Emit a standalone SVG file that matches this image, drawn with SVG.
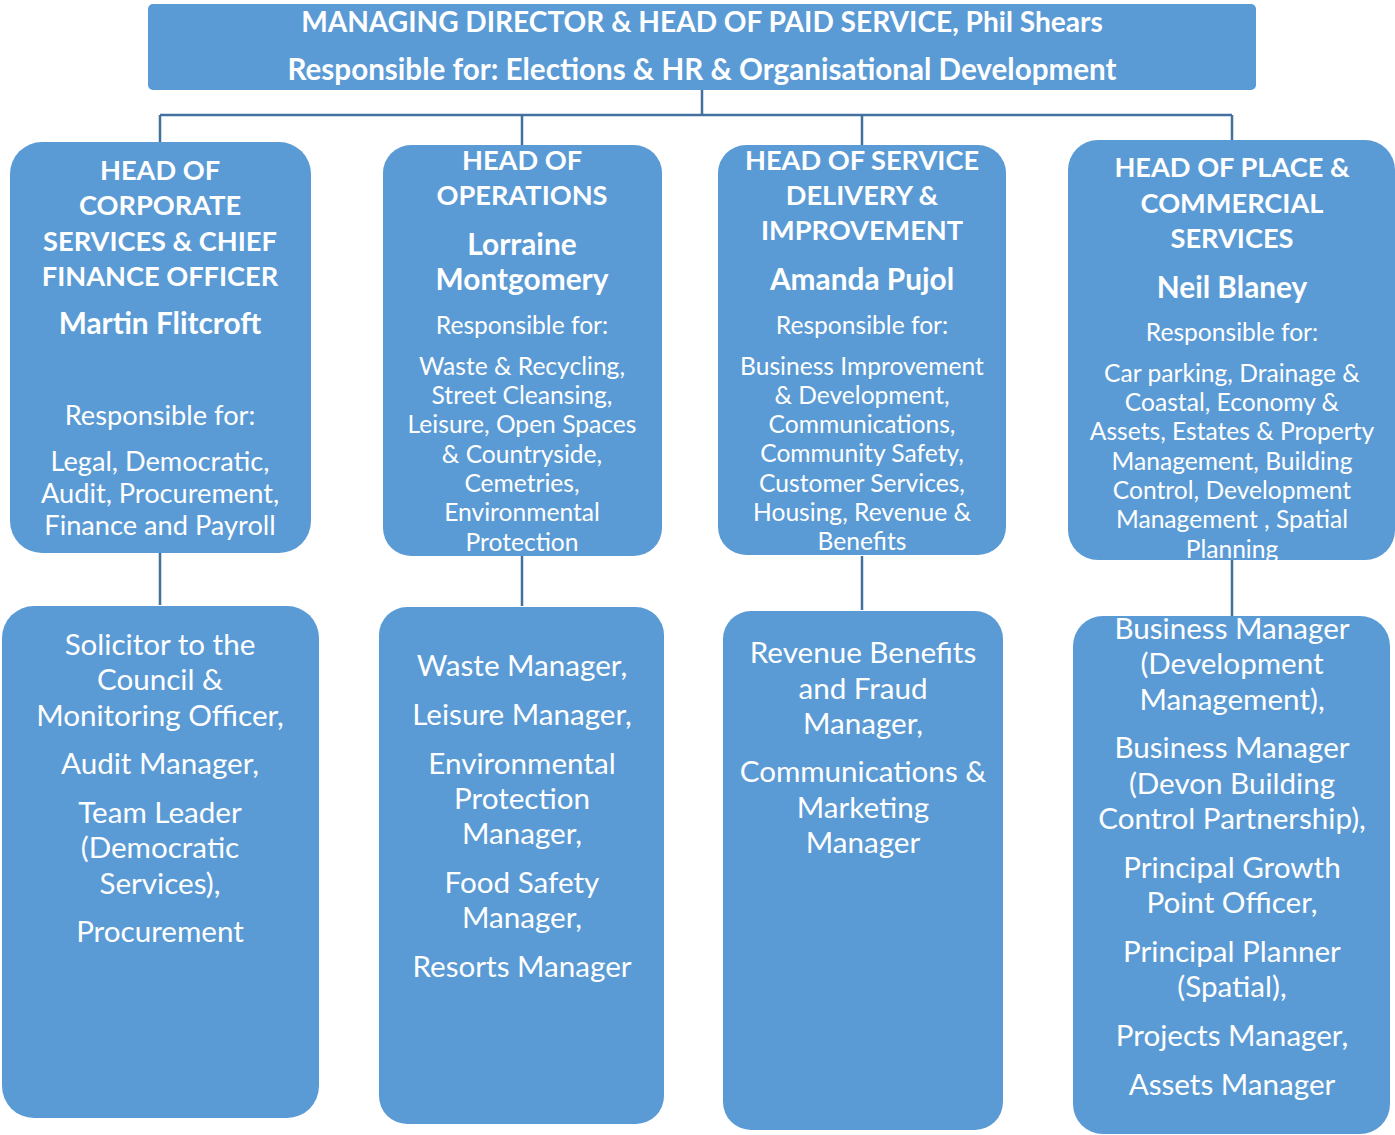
<svg xmlns="http://www.w3.org/2000/svg" width="1395" height="1135" viewBox="0 0 1395 1135">
<style>
.box{fill:#5B9BD5;}
.conn{stroke:#41719C;stroke-width:2.5;fill:none;}
text{font-family:Lato,"Open Sans",sans-serif;fill:#FFFFFF;text-anchor:middle;}
.t{font-weight:bold;font-size:27.2px;}
.t1{font-weight:bold;font-size:28.1px;}
.t2{font-weight:bold;font-size:29.6px;}
.n{font-weight:bold;font-size:29.8px;}
.r{font-size:27.2px;}
.s{font-size:24.6px;}
.b{font-size:29.6px;}
</style>
<rect width="1395" height="1135" fill="#FFFFFF"/>
<g id="connectors">
<path class="conn" d="M702 90V115M160 115H1232M160 115V142M522 115V145M862 115V145M1232 115V140"/>
<path class="conn" d="M160 553V605M522 556V606M862 556V610M1232 560V616"/>
</g>
<g id="md">
<rect class="box" x="148" y="4" width="1108" height="86" rx="5"/>
<text class="t1" x="702" y="32">MANAGING DIRECTOR &amp; HEAD OF PAID SERVICE, Phil Shears</text>
<text class="t2" x="702" y="80">Responsible for: Elections &amp; HR &amp; Organisational Development</text>
</g>
<g id="corporate">
<rect class="box" x="10" y="142" width="301" height="411" rx="32"/>
<text class="t" x="160" y="180">HEAD OF</text>
<text class="t" x="160" y="215">CORPORATE</text>
<text class="t" x="160" y="251">SERVICES &amp; CHIEF</text>
<text class="t" x="160" y="286">FINANCE OFFICER</text>
<text class="n" x="160" y="334">Martin Flitcroft</text>
<text class="r" x="160" y="425">Responsible for:</text>
<text class="r" x="160" y="471">Legal, Democratic,</text>
<text class="r" x="160" y="503">Audit, Procurement,</text>
<text class="r" x="160" y="535">Finance and Payroll</text>
</g>
<g id="operations">
<rect class="box" x="383" y="145" width="279" height="411" rx="28"/>
<text class="t" x="522" y="170">HEAD OF</text>
<text class="t" x="522" y="205">OPERATIONS</text>
<text class="n" x="522" y="255">Lorraine</text>
<text class="n" x="522" y="290">Montgomery</text>
<text class="s" x="522" y="334">Responsible for:</text>
<text class="s" x="522" y="375">Waste &amp; Recycling,</text>
<text class="s" x="522" y="404">Street Cleansing,</text>
<text class="s" x="522" y="433">Leisure, Open Spaces</text>
<text class="s" x="522" y="463">&amp; Countryside,</text>
<text class="s" x="522" y="492">Cemetries,</text>
<text class="s" x="522" y="521">Environmental</text>
<text class="s" x="522" y="551">Protection</text>
</g>
<g id="service-delivery">
<rect class="box" x="718" y="145" width="288" height="410" rx="28"/>
<text class="t" x="862" y="170">HEAD OF SERVICE</text>
<text class="t" x="862" y="205">DELIVERY &amp;</text>
<text class="t" x="862" y="240">IMPROVEMENT</text>
<text class="n" x="862" y="290">Amanda Pujol</text>
<text class="s" x="862" y="334">Responsible for:</text>
<text class="s" x="862" y="375">Business Improvement</text>
<text class="s" x="862" y="404">&amp; Development,</text>
<text class="s" x="862" y="433">Communications,</text>
<text class="s" x="862" y="462">Community Safety,</text>
<text class="s" x="862" y="492">Customer Services,</text>
<text class="s" x="862" y="521">Housing, Revenue &amp;</text>
<text class="s" x="862" y="550">Benefits</text>
</g>
<g id="place">
<rect class="box" x="1068" y="140" width="327" height="420" rx="30"/>
<text class="t" x="1232" y="177">HEAD OF PLACE &amp;</text>
<text class="t" x="1232" y="213">COMMERCIAL</text>
<text class="t" x="1232" y="248">SERVICES</text>
<text class="n" x="1232" y="298">Neil Blaney</text>
<text class="s" x="1232" y="341">Responsible for:</text>
<text class="s" x="1232" y="382">Car parking, Drainage &amp;</text>
<text class="s" x="1232" y="411">Coastal, Economy &amp;</text>
<text class="s" x="1232" y="440">Assets, Estates &amp; Property</text>
<text class="s" x="1232" y="470">Management, Building</text>
<text class="s" x="1232" y="499">Control, Development</text>
<text class="s" x="1232" y="528">Management , Spatial</text>
<text class="s" x="1232" y="558">Planning</text>
</g>
<g id="corporate-staff">
<rect class="box" x="2" y="606" width="317" height="512" rx="32"/>
<text class="b" x="160" y="655">Solicitor to the</text>
<text class="b" x="160" y="690">Council &amp;</text>
<text class="b" x="160" y="726">Monitoring Officer,</text>
<text class="b" x="160" y="774">Audit Manager,</text>
<text class="b" x="160" y="823">Team Leader</text>
<text class="b" x="160" y="858">(Democratic</text>
<text class="b" x="160" y="894">Services),</text>
<text class="b" x="160" y="942">Procurement</text>
</g>
<g id="operations-staff">
<rect class="box" x="379" y="607" width="285" height="517" rx="28"/>
<text class="b" x="522" y="676">Waste Manager,</text>
<text class="b" x="522" y="725">Leisure Manager,</text>
<text class="b" x="522" y="774">Environmental</text>
<text class="b" x="522" y="809">Protection</text>
<text class="b" x="522" y="844">Manager,</text>
<text class="b" x="522" y="893">Food Safety</text>
<text class="b" x="522" y="928">Manager,</text>
<text class="b" x="522" y="977">Resorts Manager</text>
</g>
<g id="service-delivery-staff">
<rect class="box" x="723" y="611" width="280" height="519" rx="28"/>
<text class="b" x="863" y="663">Revenue Benefits</text>
<text class="b" x="863" y="699">and Fraud</text>
<text class="b" x="863" y="734">Manager,</text>
<text class="b" x="863" y="782">Communications &amp;</text>
<text class="b" x="863" y="818">Marketing</text>
<text class="b" x="863" y="853">Manager</text>
</g>
<g id="place-staff">
<rect class="box" x="1073" y="616" width="317" height="518" rx="30"/>
<text class="b" x="1232" y="639">Business Manager</text>
<text class="b" x="1232" y="674">(Development</text>
<text class="b" x="1232" y="710">Management),</text>
<text class="b" x="1232" y="758">Business Manager</text>
<text class="b" x="1232" y="794">(Devon Building</text>
<text class="b" x="1232" y="829">Control Partnership),</text>
<text class="b" x="1232" y="878">Principal Growth</text>
<text class="b" x="1232" y="913">Point Officer,</text>
<text class="b" x="1232" y="962">Principal Planner</text>
<text class="b" x="1232" y="997">(Spatial),</text>
<text class="b" x="1232" y="1046">Projects Manager,</text>
<text class="b" x="1232" y="1095">Assets Manager</text>
</g>
</svg>
